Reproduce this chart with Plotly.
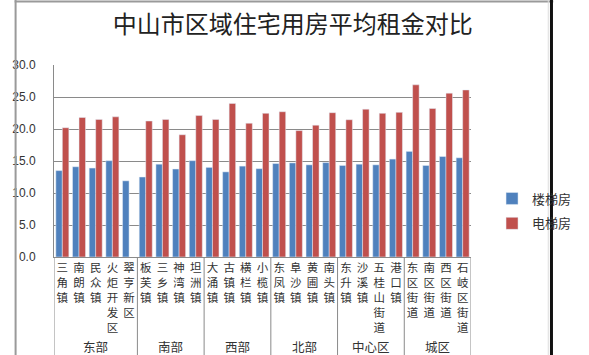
import plotly.graph_objects as go

categories = ["三角镇", "南朗镇", "民众镇", "火炬开发区", "翠亨新区",
              "板芙镇", "三乡镇", "神湾镇", "坦洲镇",
              "大涌镇", "古镇镇", "横栏镇", "小榄镇",
              "东凤镇", "阜沙镇", "黄圃镇", "南头镇",
              "东升镇", "沙溪镇", "五桂山街道", "港口镇",
              "东区街道", "南区街道", "西区街道", "石岐区街道"]
groups = ["东部", "南部", "西部", "北部", "中心区", "城区"]
group_sizes = [5, 4, 4, 4, 4, 4]
stair = [13.5, 14.1, 13.9, 15.05, 11.9, 12.5, 14.5, 13.75, 15.05, 14.0, 13.3, 14.2, 13.8,
         14.6, 14.7, 14.4, 14.75, 14.3, 14.5, 14.4, 15.3, 16.5, 14.3, 15.7, 15.5]
elevator = [20.2, 21.8, 21.5, 21.9, None, 21.25, 21.5, 19.1, 22.1, 21.5, 24.0, 20.9, 22.45,
            22.7, 19.75, 20.6, 22.55, 21.45, 23.1, 22.45, 22.6, 26.9, 23.2, 25.6, 26.1]
series_names = ["楼梯房", "电梯房"]
title = "中山市区域住宅用房平均租金对比"
yticks = [0, 5, 10, 15, 20, 25, 30]

W, H = 589, 355
L, R, T, B = 43, 90, 65, 98
pw = W - L - R
ph = H - T - B

idx = list(range(len(categories)))
fig = go.Figure()
fig.add_trace(go.Bar(x=idx, y=stair, name=series_names[0], marker_color="#4F81BD",
                     legendgroup="a"))
fig.add_trace(go.Bar(x=idx, y=elevator, name=series_names[1], marker_color="#C0504D",
                     legendgroup="b"))

cjk = "Noto Sans CJK SC"
fig.update_layout(
    width=W, height=H,
    margin=dict(l=L, r=R, t=T, b=B),
    paper_bgcolor="white", plot_bgcolor="white",
    barmode="group", bargap=0.22, bargroupgap=0,
    title=dict(text=title, x=0.497, xanchor="center", y=1 - 25 / H, yanchor="middle",
               font=dict(family=cjk, size=24, color="#222")),
    legend=dict(x=(522 - L) / pw, xanchor="left", y=(257 - 211) / ph,
                yanchor="middle", font=dict(family=cjk, size=13, color="#333"),
                tracegroupgap=5, itemwidth=30, bgcolor="rgba(0,0,0,0)"),
    showlegend=True,
)
fig.update_xaxes(
    tickmode="array", tickvals=idx,
    ticktext=["<br>".join(list(c)) for c in categories],
    tickangle=0, range=[-0.5, len(categories) - 0.5],
    tickfont=dict(family=cjk, size=11.5, color="#333"),
    showline=True, linecolor="#8a8a8a", linewidth=1, ticks="", showgrid=False,
    ticklabelstandoff=0,
)
fig.update_yaxes(
    range=[0, 30], tickvals=yticks, tickformat=".1f",
    tickfont=dict(family="Liberation Sans", size=12, color="#333"),
    showgrid=True, gridcolor="#8a8a8a", gridwidth=1,
    showline=True, linecolor="#8a8a8a", linewidth=1, ticks="",
    ticklabelstandoff=15, zeroline=False,
)

# group separators and group labels
start = 0
bounds = [-0.5]
for g, n in zip(groups, group_sizes):
    end = start + n
    bounds.append(end - 0.5)
    fig.add_annotation(x=(start + end - 1) / 2, xref="x", y=-(346.5 - (T + ph)) / ph, yref="paper",
                       text=g, showarrow=False, font=dict(family=cjk, size=12.5, color="#333"),
                       yanchor="middle", borderpad=0)
    start = end
for b in bounds:
    fig.add_shape(type="line", xref="x", yref="paper", x0=b, x1=b, y0=0, y1=-(H - (T + ph)) / ph,
                  line=dict(color="#8a8a8a", width=1))

# outer frame (top/left gray, right dark)
def px(xp):
    return (xp - L) / pw
def py(yp):
    return (T + ph - yp) / ph
fig.add_shape(type="line", xref="paper", yref="paper", x0=px(0), x1=px(W), y0=py(1.5), y1=py(1.5),
              line=dict(color="#9a9a9a", width=2))
fig.add_shape(type="line", xref="paper", yref="paper", x0=px(1), x1=px(1), y0=py(0), y1=py(H),
              line=dict(color="#9a9a9a", width=2))
fig.add_shape(type="line", xref="paper", yref="paper", x0=px(587), x1=px(587), y0=py(0), y1=py(H),
              line=dict(color="#111", width=3))
fig.add_shape(type="line", xref="paper", yref="paper", x0=px(583.5), x1=px(583.5), y0=py(0), y1=py(H),
              line=dict(color="#dddddd", width=1))

fig.write_html("out.html")
